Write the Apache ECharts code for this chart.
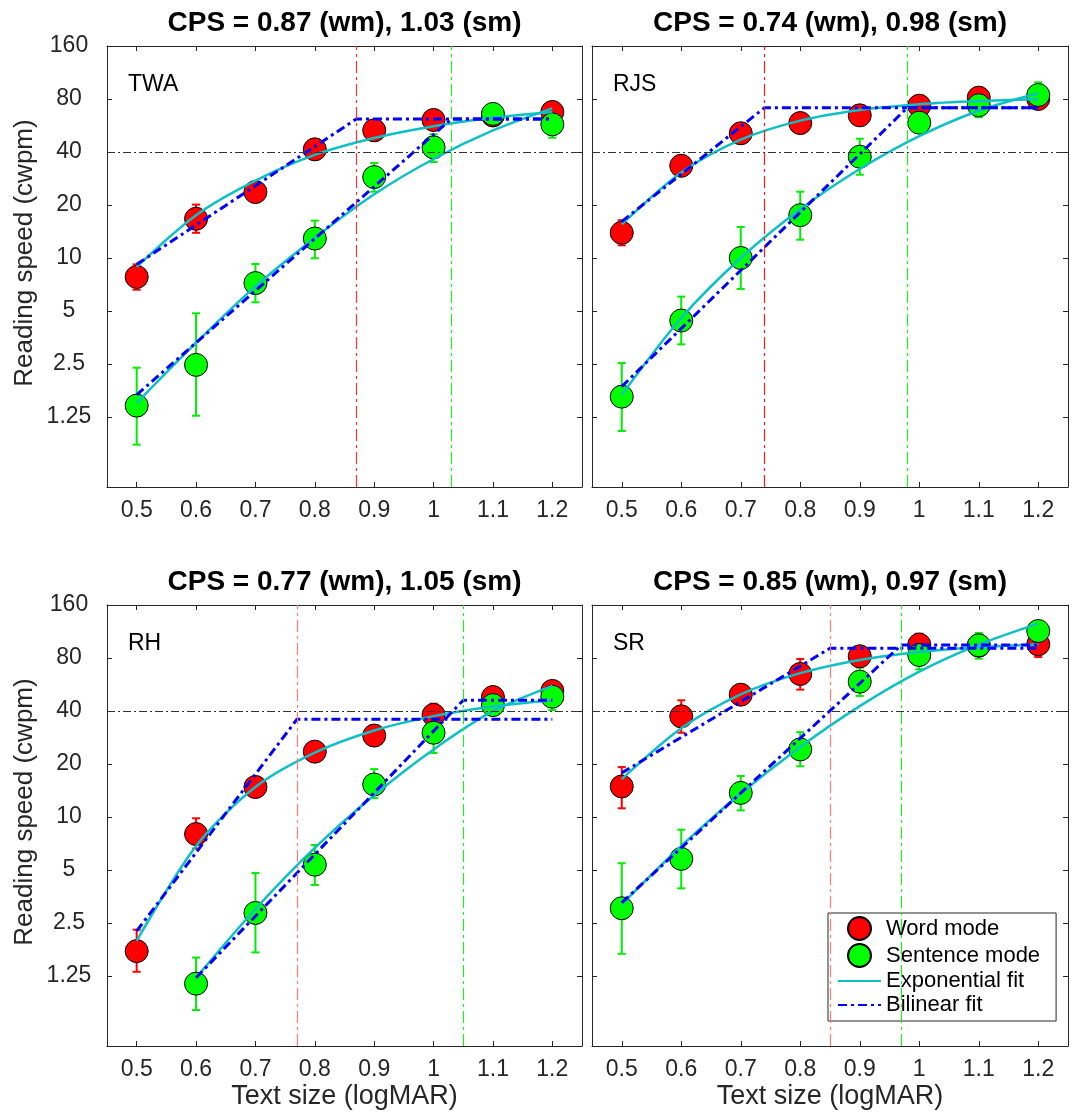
<!DOCTYPE html>
<html>
<head>
<meta charset="utf-8">
<script src="https://cdn.jsdelivr.net/npm/echarts@6/dist/echarts.min.js"></script>
<style>
  html, body { margin: 0; background: #fff; }
  #chart { width: 1078px; height: 1113px; }
</style>
</head>
<body>
<div id="chart"></div>
<script>
const FONT = 'Liberation Sans';

// axes
const xTicks = [0.5, 0.6, 0.7, 0.8, 0.9, 1.0, 1.1, 1.2];
const yTicks = [1.25, 2.5, 5, 10, 20, 40, 80, 160];
const xs = [0.5, 0.6, 0.7, 0.8, 0.9, 1.0, 1.1, 1.2];

const subjects = ['TWA', 'RJS', 'RH', 'SR'];
const cpsWord = [0.87, 0.74, 0.77, 0.85];
const cpsSent = [1.03, 0.98, 1.05, 0.97];

// TWA
const twaWord = [7.8, 16.7, 23.7, 41.4, 53.1, 60.8, 64.5, 67.5];
const twaWordLo = [6.6, 13.9, null, null, null, null, null, null];
const twaWordHi = [9.2, 20.1, null, null, null, null, null, null];
const twaSent = [1.45, 2.47, 7.2, 12.9, 28.8, 42.5, 65.8, 57.4];
const twaSentLo = [0.87, 1.27, 5.6, 9.96, 23.8, 35.1, null, 48.2];
const twaSentHi = [2.38, 4.85, 9.24, 16.3, 34.6, 50.4, null, 69.3];
const twaWordExp = [8.9, 17.5, 27.5, 38.5, 48.0, 56.0, 62.5, 67.5];
const twaSentExp = [1.5, 3.3, 6.9, 13.0, 23.0, 36.5, 53, 70.8];
const twaWordBil = [[0.5, 9.2], [0.87, 61.6], [1.2, 61.6]];
const twaSentBil = [[0.5, 1.67], [1.03, 61.6], [1.2, 61.6]];

// RJS
const rjsWord = [13.9, 33.4, 51.1, 58.4, 64.6, 73.3, 81.4, 80];
const rjsWordLo = [11.8, null, null, null, null, null, null, null];
const rjsWordHi = [16.4, null, null, null, null, null, null, null];
const rjsSent = [1.63, 4.41, 10.0, 17.5, 37.6, 58.7, 73.7, 84.3];
const rjsSentLo = [1.04, 3.23, 6.67, 12.7, 29.7, null, 63, 72];
const rjsSentHi = [2.53, 6.03, 15.0, 23.8, 47.6, null, 86, 99.5];
const rjsWordExp = [15.5, 30.6, 47.0, 60.3, 69.3, 74.8, 77.9, 79.8];
const rjsSentExp = [1.67, 4.56, 9.99, 18.9, 32.0, 49.2, 68.6, 86.2];
const rjsWordBil = [[0.5, 16.1], [0.74, 71.4], [1.2, 71.4]];
const rjsSentBil = [[0.5, 1.86], [0.98, 71.4], [1.2, 71.4]];

// RH
const rhWord = [1.73, 8.0, 14.8, 23.5, 29.0, 38.0, 48.0, 52.0];
const rhWordLo = [1.32, 6.61, null, null, null, 35, null, null];
const rhWordHi = [2.29, 9.83, null, null, null, 44.0, null, null];
const rhSent = [null, 1.13, 2.85, 5.36, 15.3, 30.1, 43.2, 48.2];
const rhSentLo = [null, 0.80, 1.70, 4.11, 12.8, 23.1, null, 40.5];
const rhSentHi = [null, 1.59, 4.81, 6.93, 18.7, 38.3, null, 55];
const rhWordExp = [1.98, 6.85, 14.8, 23.2, 31.0, 37.4, 42.4, 46.0];
const rhSentExp = [null, 1.22, 3.0, 6.67, 13.3, 24.2, 39.9, 55.6];
const rhWordBil = [[0.5, 2.25], [0.77, 35.9], [1.2, 35.9]];
const rhSentBil = [[0.6, 1.22], [1.05, 46.0], [1.2, 46.0]];

// SR
const srWord = [14.9, 37.3, 49.5, 64.9, 81.8, 95.3, 94, 95.7];
const srWordLo = [11.2, 30.1, null, 52.9, null, 85, null, 81];
const srWordHi = [19.2, 46.0, null, 79.0, null, 110, null, 105];
const srSent = [3.03, 5.78, 13.7, 24.2, 58.7, 83.2, 94.4, 113.9];
const srSentLo = [1.67, 3.93, 10.9, 19.4, 48.7, 69, 79.3, null];
const srSentHi = [5.46, 8.47, 17.1, 30.3, 70.5, 100.8, 111, null];
const srWordExp = [16.4, 31.9, 49.7, 65.6, 78.0, 86.5, 92.1, 95.3];
const srSentExp = [3.19, 6.84, 13.6, 25.0, 42.6, 66.9, 95.3, 125.4];
const srWordBil = [[0.5, 17.8], [0.85, 90.8], [1.2, 90.8]];
const srSentBil = [[0.5, 3.26], [0.97, 94.8], [1.2, 94.8]];

const panels = [
  { word: twaWord, wordLo: twaWordLo, wordHi: twaWordHi, sent: twaSent, sentLo: twaSentLo, sentHi: twaSentHi,
    wordExp: twaWordExp, sentExp: twaSentExp, wordBil: twaWordBil, sentBil: twaSentBil },
  { word: rjsWord, wordLo: rjsWordLo, wordHi: rjsWordHi, sent: rjsSent, sentLo: rjsSentLo, sentHi: rjsSentHi,
    wordExp: rjsWordExp, sentExp: rjsSentExp, wordBil: rjsWordBil, sentBil: rjsSentBil },
  { word: rhWord, wordLo: rhWordLo, wordHi: rhWordHi, sent: rhSent, sentLo: rhSentLo, sentHi: rhSentHi,
    wordExp: rhWordExp, sentExp: rhSentExp, wordBil: rhWordBil, sentBil: rhSentBil },
  { word: srWord, wordLo: srWordLo, wordHi: srWordHi, sent: srSent, sentLo: srSentLo, sentHi: srSentHi,
    wordExp: srWordExp, sentExp: srSentExp, wordBil: srWordBil, sentBil: srSentBil }
];

// layout
const boxes = [
  { left: 107, top: 46, width: 475, height: 441 },
  { left: 592, top: 46, width: 476, height: 441 },
  { left: 107, top: 605, width: 475, height: 441 },
  { left: 592, top: 605, width: 476, height: 441 }
];
const AXIS = '#262626';
const CYAN = '#0cc0c6';
const BLUE = '#0000ff';
const cpsRed = ['#ff3333', '#ee1c1c', '#ff7a7a', '#ff7a7a'];
const cpsGreen = '#22ee22';

const pts = ys => xs.map((x, i) => [x, ys[i]]).filter(p => p[1] != null);
const errs = (lo, hi) => xs.map((x, i) => [x, lo[i], hi[i]]).filter(d => d[1] != null);

function xAx(i, top) {
  return {
    type: 'value', gridIndex: i, position: top ? 'top' : 'bottom', min: 0.45, max: 1.25,
    axisLine: { show: true, onZero: false, lineStyle: { color: AXIS, width: 1 } },
    axisTick: { show: true, inside: true, length: 5, customValues: xTicks, lineStyle: { color: AXIS } },
    axisLabel: { show: !top, customValues: xTicks, margin: 12, color: AXIS, fontSize: 23, fontFamily: FONT,
      formatter: v => String(+(+v).toFixed(2)) },
    splitLine: { show: false },
    name: (!top && i >= 2) ? 'Text size (logMAR)' : '',
    nameLocation: 'middle', nameGap: 37,
    nameTextStyle: { fontSize: 27, fontFamily: FONT, color: AXIS }
  };
}

function yAx(i, right) {
  return {
    type: 'log', logBase: 2, gridIndex: i, position: right ? 'right' : 'left', min: 0.5, max: 160,
    axisLine: { show: true, onZero: false, lineStyle: { color: AXIS, width: 1 } },
    axisTick: { show: true, inside: true, length: 5, customValues: yTicks, lineStyle: { color: AXIS } },
    axisLabel: { show: !right && i % 2 === 0, customValues: yTicks, align: 'center', margin: 38,
      color: AXIS, fontSize: 23, fontFamily: FONT, formatter: v => String(+(+v).toPrecision(4)) },
    splitLine: { show: false }
  };
}

function errSeries(i, data, color) {
  return {
    type: 'custom', xAxisIndex: 2 * i, yAxisIndex: 2 * i, silent: true, data: data,
    encode: { x: 0, y: [1, 2] },
    renderItem: function (params, api) {
      const x = api.value(0);
      const a = api.coord([x, api.value(1)]);
      const b = api.coord([x, api.value(2)]);
      const s = { stroke: color, lineWidth: 2 };
      return {
        type: 'group', children: [
          { type: 'line', shape: { x1: a[0], y1: a[1], x2: b[0], y2: b[1] }, style: s },
          { type: 'line', shape: { x1: a[0] - 4, y1: a[1], x2: a[0] + 4, y2: a[1] }, style: s },
          { type: 'line', shape: { x1: b[0] - 4, y1: b[1], x2: b[0] + 4, y2: b[1] }, style: s }
        ]
      };
    }
  };
}

const xAxes = [], yAxes = [], series = [], graphics = [];
panels.forEach((p, i) => {
  xAxes.push(xAx(i, false), xAx(i, true));
  yAxes.push(yAx(i, false), yAx(i, true));
  const ax = { xAxisIndex: 2 * i, yAxisIndex: 2 * i };

  series.push({
    type: 'line', ...ax, data: [], silent: true,
    markLine: {
      symbol: 'none', silent: true, animation: false, label: { show: false },
      emphasis: { disabled: true },
      data: [
        { yAxis: 40, lineStyle: { color: '#333', width: 1, type: [8, 3, 2, 3] } },
        { xAxis: cpsWord[i], lineStyle: { color: cpsRed[i], width: 1.2, type: [12, 4, 3, 4] } },
        { xAxis: cpsSent[i], lineStyle: { color: cpsGreen, width: 1.2, type: [12, 4, 3, 4] } }
      ]
    }
  });
  series.push(errSeries(i, errs(p.wordLo, p.wordHi), '#ff0000'));
  series.push(errSeries(i, errs(p.sentLo, p.sentHi), '#00ee00'));

  [p.wordExp, p.sentExp].forEach(d => series.push({
    name: 'Exponential fit', type: 'line', ...ax, data: pts(d), smooth: 0.3,
    symbol: 'none', silent: true, lineStyle: { color: CYAN, width: 2.5 }, itemStyle: { color: CYAN }
  }));
  [p.wordBil, p.sentBil].forEach(d => series.push({
    name: 'Bilinear fit', type: 'line', ...ax, data: d, symbol: 'none', silent: true,
    lineStyle: { color: BLUE, width: 3, type: [9, 4, 3, 4] }, itemStyle: { color: BLUE }
  }));
  series.push({
    name: 'Word mode', type: 'scatter', ...ax, data: pts(p.word), symbolSize: 23, silent: true,
    itemStyle: { color: '#ff0000', borderColor: '#000', borderWidth: 1, opacity: 1 }
  });
  series.push({
    name: 'Sentence mode', type: 'scatter', ...ax, data: pts(p.sent), symbolSize: 23, silent: true,
    itemStyle: { color: '#00ff00', borderColor: '#000', borderWidth: 1, opacity: 1 }
  });

  const b = boxes[i];
  const dy = b.top - 46;
  graphics.push({
    type: 'text', x: b.left + b.width / 2, y: 23 + dy,
    style: { text: 'CPS = ' + cpsWord[i].toFixed(2) + ' (wm), ' + cpsSent[i].toFixed(2) + ' (sm)',
      font: 'bold 28px "' + FONT + '"', fill: '#000', textAlign: 'center', textVerticalAlign: 'middle' }
  });
  graphics.push({
    type: 'text', x: b.left + 21, y: 84.6 + dy,
    style: { text: subjects[i], font: '23px "' + FONT + '"', fill: '#000', textAlign: 'left', textVerticalAlign: 'middle' }
  });
  if (i % 2 === 0) {
    graphics.push({
      type: 'text', x: 25, y: 253 + dy, rotation: Math.PI / 2,
      style: { text: 'Reading speed (cwpm)', font: '26px "' + FONT + '"', fill: AXIS, textAlign: 'center', textVerticalAlign: 'middle' }
    });
  }
});

const chart = echarts.init(document.getElementById('chart'), null, { renderer: 'canvas' });
chart.setOption({
  animation: false,
  backgroundColor: '#fff',
  grid: boxes.map(b => ({ ...b, containLabel: false, outerBoundsMode: 'none' })),
  xAxis: xAxes,
  yAxis: yAxes,
  legend: {
    data: [
      { name: 'Word mode' },
      { name: 'Sentence mode' },
      { name: 'Exponential fit', itemStyle: { opacity: 0 } },
      { name: 'Bilinear fit', itemStyle: { opacity: 0 } }
    ],
    orient: 'vertical', left: 828, top: 913, itemWidth: 43, itemHeight: 23, itemGap: 2,
    padding: [3, 16, 5, 9], borderColor: AXIS, borderWidth: 1, backgroundColor: '#fff',
    selectedMode: false, textStyle: { fontSize: 22, fontFamily: FONT, color: '#000' }
  },
  graphic: graphics,
  series: series
});
</script>
</body>
</html>
